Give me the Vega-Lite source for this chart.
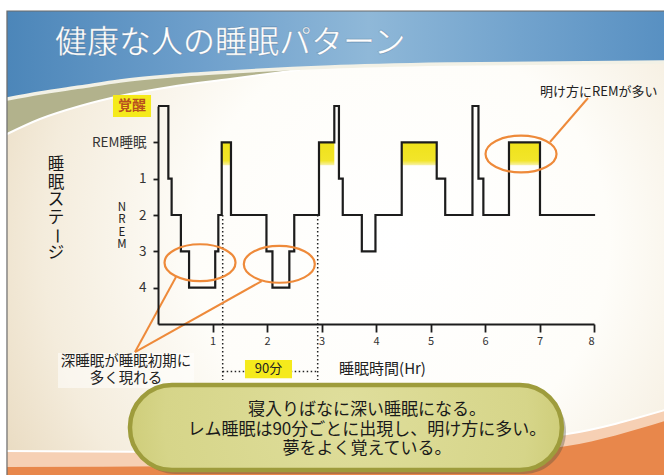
{
  "$schema": "https://vega.github.io/schema/vega-lite/v6.json",
  "width": 436,
  "height": 218,
  "autosize": {"type": "none"},
  "padding": {"left": 158, "top": 106, "right": 70, "bottom": 151},
  "background": "#ffffff",
  "config": {
    "view": {"stroke": null},
    "font": "Noto Sans CJK JP",
    "text": {"align": "center", "baseline": "middle", "fill": "#1a1a1a"}
  },
  "data": {"values": [{}]},
  "datasets": {
    "hypnogram": [
      {"hour": 0.0, "stage": 0},
      {"hour": 0.19, "stage": 2},
      {"hour": 0.25, "stage": 3},
      {"hour": 0.42, "stage": 4},
      {"hour": 0.57, "stage": 5},
      {"hour": 1.05, "stage": 4},
      {"hour": 1.107, "stage": 3},
      {"hour": 1.169, "stage": 1},
      {"hour": 1.339, "stage": 3},
      {"hour": 1.99, "stage": 4},
      {"hour": 2.10, "stage": 5},
      {"hour": 2.41, "stage": 4},
      {"hour": 2.50, "stage": 3},
      {"hour": 2.954, "stage": 1},
      {"hour": 3.235, "stage": 0},
      {"hour": 3.32, "stage": 2},
      {"hour": 3.39, "stage": 3},
      {"hour": 3.74, "stage": 4},
      {"hour": 3.99, "stage": 3},
      {"hour": 4.472, "stage": 1},
      {"hour": 5.114, "stage": 2},
      {"hour": 5.27, "stage": 3},
      {"hour": 5.77, "stage": 0},
      {"hour": 5.88, "stage": 2},
      {"hour": 5.97, "stage": 3},
      {"hour": 6.44, "stage": 1},
      {"hour": 7.009, "stage": 3},
      {"hour": 8.02, "stage": 3}
    ],
    "rem_periods": [
      {"start": 1.169, "end": 1.339},
      {"start": 2.954, "end": 3.235},
      {"start": 4.472, "end": 5.114},
      {"start": 6.44, "end": 7.009}
    ],
    "rem_onsets": [
      {"hour": 1.187},
      {"hour": 2.93}
    ],
    "highlights": [
      {"hour": 0.771, "stage": 4.313},
      {"hour": 2.226, "stage": 4.357},
      {"hour": 6.661, "stage": 1.321}
    ],
    "leaders": [
      {"hour": -0.422, "stage": 6.771, "hour2": 0.33, "stage2": 4.707},
      {"hour": -0.422, "stage": 6.771, "hour2": 1.903, "stage2": 4.818},
      {"hour": 7.193, "stage": 0.991, "hour2": 7.89, "stage2": -0.22}
    ],
    "header_edge": [
      {"pos": -2.771, "edge": -0.193},
      {"pos": -2.165, "edge": -0.358},
      {"pos": -1.431, "edge": -0.523},
      {"pos": -0.697, "edge": -0.688},
      {"pos": 0.22, "edge": -0.826},
      {"pos": 1.321, "edge": -0.936},
      {"pos": 3.156, "edge": -1.073},
      {"pos": 5.358, "edge": -1.156},
      {"pos": 9.3, "edge": -1.211}
    ],
    "olive_band": [
      {"pos": -2.771, "upper": -0.193, "lower": 0.771},
      {"pos": -2.165, "upper": -0.358, "lower": 0.358},
      {"pos": -1.431, "upper": -0.523, "lower": 0.0},
      {"pos": -0.697, "upper": -0.688, "lower": -0.275},
      {"pos": 0.22, "upper": -0.826, "lower": -0.523},
      {"pos": 1.321, "upper": -0.936, "lower": -0.743},
      {"pos": 2.606, "upper": -1.032, "lower": -1.0}
    ],
    "footer_band": [
      {"pos": -2.771, "peach": 9.496, "orange": 9.937},
      {"pos": 0.771, "peach": 9.524, "orange": 9.909},
      {"pos": 4.44, "peach": 9.386, "orange": 9.717},
      {"pos": 7.505, "peach": 9.028, "orange": 9.359},
      {"pos": 9.3, "peach": 8.368, "orange": 8.67}
    ]
  },
  "layer": [
    {
      "mark": {
        "type": "rect",
        "fill": {
          "gradient": "radial",
          "x1": 0.6, "y1": 0.5, "r1": 0,
          "x2": 0.6, "y2": 0.5, "r2": 0.7,
          "stops": [
            {"offset": 0, "color": "#ffffff"},
            {"offset": 0.45, "color": "#fefdf9"},
            {"offset": 0.78, "color": "#f4ecdc"},
            {"offset": 1, "color": "#e8d9be"}
          ]
        }
      },
      "encoding": {
        "x": {"datum": -2.771, "type": "quantitative", "scale": {"domain": [0, 8], "nice": false, "zero": false}},
        "x2": {"datum": 9.3},
        "y": {"datum": -2.615, "type": "quantitative", "scale": {"domain": [0, 6], "reverse": true, "nice": false, "zero": false}},
        "y2": {"datum": 10.2}
      }
    },
    {
      "data": {"name": "olive_band"},
      "mark": {"type": "area", "interpolate": "monotone", "fill": "#b2b28c"},
      "encoding": {
        "x": {"field": "pos", "type": "quantitative"},
        "y": {"field": "upper", "type": "quantitative"},
        "y2": {"field": "lower"}
      }
    },
    {
      "data": {"name": "olive_band"},
      "mark": {"type": "line", "interpolate": "monotone", "stroke": "#ffffff", "strokeWidth": 2},
      "encoding": {
        "x": {"field": "pos", "type": "quantitative"},
        "y": {"field": "lower", "type": "quantitative"}
      }
    },
    {
      "data": {"name": "header_edge"},
      "mark": {
        "type": "area",
        "interpolate": "monotone",
        "fill": {
          "gradient": "linear",
          "x1": 0, "y1": 0, "x2": 1, "y2": 0,
          "stops": [
            {"offset": 0, "color": "#4c86b9"},
            {"offset": 0.3, "color": "#6fa0cc"},
            {"offset": 0.55, "color": "#8fb8d8"},
            {"offset": 0.78, "color": "#72a3cd"},
            {"offset": 1, "color": "#5890c2"}
          ]
        }
      },
      "encoding": {
        "x": {"field": "pos", "type": "quantitative"},
        "y": {"field": "edge", "type": "quantitative"},
        "y2": {"datum": -2.615}
      }
    },
    {
      "data": {"name": "header_edge"},
      "mark": {"type": "line", "interpolate": "monotone", "stroke": "#f2f1e6", "strokeWidth": 3.5},
      "encoding": {
        "x": {"field": "pos", "type": "quantitative"},
        "y": {"field": "edge", "type": "quantitative"}
      }
    },
    {
      "data": {"name": "footer_band"},
      "mark": {"type": "area", "interpolate": "monotone", "fill": "#f6d0b4"},
      "encoding": {
        "x": {"field": "pos", "type": "quantitative"},
        "y": {"field": "peach", "type": "quantitative"},
        "y2": {"datum": 10.2}
      }
    },
    {
      "data": {"name": "footer_band"},
      "mark": {"type": "line", "interpolate": "monotone", "stroke": "#ffffff", "strokeWidth": 2},
      "encoding": {
        "x": {"field": "pos", "type": "quantitative"},
        "y": {"field": "peach", "type": "quantitative"}
      }
    },
    {
      "data": {"name": "footer_band"},
      "mark": {"type": "area", "interpolate": "monotone", "fill": "#e8874b"},
      "encoding": {
        "x": {"field": "pos", "type": "quantitative"},
        "y": {"field": "orange", "type": "quantitative"},
        "y2": {"datum": 10.2}
      }
    },
    {
      "mark": {"type": "rect", "fillOpacity": 0, "stroke": "#6b6b6b", "strokeWidth": 1.2},
      "encoding": {
        "x": {"datum": -2.771, "type": "quantitative"},
        "x2": {"datum": 9.4},
        "y": {"datum": -2.615, "type": "quantitative"},
        "y2": {"datum": 10.3}
      }
    },
    {
      "mark": {"type": "text", "text": "健康な人の睡眠パターン", "align": "left", "baseline": "alphabetic", "fontSize": 32, "fill": "#ffffff", "stroke": "#2c5479", "strokeWidth": 0.8, "strokeOpacity": 0.35},
      "encoding": {
        "x": {"datum": -1.89, "type": "quantitative"},
        "y": {"datum": -1.459, "type": "quantitative"}
      }
    },
    {
      "mark": {"type": "text", "text": "睡", "fontSize": 16.5},
      "encoding": {"x": {"datum": -1.872, "type": "quantitative"}, "y": {"datum": 1.624, "type": "quantitative"}}
    },
    {
      "mark": {"type": "text", "text": "眠", "fontSize": 16.5},
      "encoding": {"x": {"datum": -1.872, "type": "quantitative"}, "y": {"datum": 2.106, "type": "quantitative"}}
    },
    {
      "mark": {"type": "text", "text": "ス", "fontSize": 16.5},
      "encoding": {"x": {"datum": -1.872, "type": "quantitative"}, "y": {"datum": 2.587, "type": "quantitative"}}
    },
    {
      "mark": {"type": "text", "text": "テ", "fontSize": 16.5},
      "encoding": {"x": {"datum": -1.872, "type": "quantitative"}, "y": {"datum": 3.069, "type": "quantitative"}}
    },
    {
      "mark": {"type": "text", "text": "ー", "angle": 90, "fontSize": 16.5},
      "encoding": {"x": {"datum": -1.872, "type": "quantitative"}, "y": {"datum": 3.58, "type": "quantitative"}}
    },
    {
      "mark": {"type": "text", "text": "ジ", "fontSize": 16.5},
      "encoding": {"x": {"datum": -1.872, "type": "quantitative"}, "y": {"datum": 4.05, "type": "quantitative"}}
    },
    {
      "mark": {"type": "text", "text": "N", "fontSize": 11.5, "fill": "#222222"},
      "encoding": {"x": {"datum": -0.661, "type": "quantitative"}, "y": {"datum": 2.808, "type": "quantitative"}}
    },
    {
      "mark": {"type": "text", "text": "R", "fontSize": 11.5, "fill": "#222222"},
      "encoding": {"x": {"datum": -0.661, "type": "quantitative"}, "y": {"datum": 3.146, "type": "quantitative"}}
    },
    {
      "mark": {"type": "text", "text": "E", "fontSize": 11.5, "fill": "#222222"},
      "encoding": {"x": {"datum": -0.661, "type": "quantitative"}, "y": {"datum": 3.485, "type": "quantitative"}}
    },
    {
      "mark": {"type": "text", "text": "M", "fontSize": 11.5, "fill": "#222222"},
      "encoding": {"x": {"datum": -0.661, "type": "quantitative"}, "y": {"datum": 3.826, "type": "quantitative"}}
    },
    {
      "mark": {"type": "rect", "fill": "#f5ea1c"},
      "encoding": {
        "x": {"datum": -0.826, "type": "quantitative"},
        "x2": {"datum": -0.128},
        "y": {"datum": -0.303, "type": "quantitative"},
        "y2": {"datum": 0.303}
      }
    },
    {
      "mark": {"type": "text", "text": "覚醒", "fontSize": 14, "fontWeight": "bold", "fill": "#b8501e"},
      "encoding": {
        "x": {"datum": -0.477, "type": "quantitative"},
        "y": {"datum": 0, "type": "quantitative"}
      }
    },
    {
      "data": {"name": "rem_periods"},
      "mark": {
        "type": "rect",
        "fill": {
          "gradient": "linear",
          "x1": 0, "y1": 0, "x2": 0, "y2": 1,
          "stops": [
            {"offset": 0, "color": "#efe21a"},
            {"offset": 0.8, "color": "#f2e52a"},
            {"offset": 1, "color": "#f7f1a8"}
          ]
        }
      },
      "encoding": {
        "x": {"field": "start", "type": "quantitative"},
        "x2": {"field": "end"},
        "y": {"datum": 1, "type": "quantitative"},
        "y2": {"datum": 1.63}
      }
    },
    {
      "data": {"name": "rem_onsets"},
      "mark": {"type": "rule", "stroke": "#222222", "strokeWidth": 1.5, "strokeDash": [1.5, 2.5]},
      "encoding": {
        "x": {"field": "hour", "type": "quantitative"},
        "y": {"datum": 3, "type": "quantitative"},
        "y2": {"datum": 7.54}
      }
    },
    {
      "mark": {"type": "rule", "stroke": "#222222", "strokeWidth": 1.5, "strokeDash": [1.5, 2.5]},
      "encoding": {
        "x": {"datum": 1.187, "type": "quantitative"},
        "x2": {"datum": 2.93},
        "y": {"datum": 7.31, "type": "quantitative"}
      }
    },
    {
      "mark": {"type": "rect", "fill": "#f5ea1c"},
      "encoding": {
        "x": {"datum": 1.596, "type": "quantitative"},
        "x2": {"datum": 2.459},
        "y": {"datum": 6.99, "type": "quantitative"},
        "y2": {"datum": 7.49}
      }
    },
    {
      "mark": {"type": "text", "text": "90分", "fontSize": 13, "fill": "#222222"},
      "encoding": {
        "x": {"datum": 2.028, "type": "quantitative"},
        "y": {"datum": 7.24, "type": "quantitative"}
      }
    },
    {
      "data": {"name": "hypnogram"},
      "mark": {"type": "line", "interpolate": "step-after", "stroke": "#1c1c1c", "strokeWidth": 2.2, "strokeJoin": "miter"},
      "encoding": {
        "x": {
          "field": "hour",
          "type": "quantitative",
          "scale": {"domain": [0, 8], "nice": false, "zero": false},
          "axis": {
            "values": [1, 2, 3, 4, 5, 6, 7, 8],
            "format": "d",
            "grid": false,
            "zindex": 1,
            "domainColor": "#1c1c1c",
            "domainWidth": 2,
            "tickColor": "#1c1c1c",
            "tickWidth": 1.8,
            "tickSize": 8,
            "labelFontSize": 11,
            "labelColor": "#333333",
            "labelPadding": 3,
            "title": "睡眠時間(Hr)",
            "titleFontSize": 15,
            "titleFontWeight": "normal",
            "titleColor": "#222222",
            "titleX": 224,
            "titleY": 44,
            "titleAlign": "center",
            "titleBaseline": "middle"
          }
        },
        "y": {
          "field": "stage",
          "type": "quantitative",
          "scale": {"domain": [0, 6], "reverse": true, "nice": false, "zero": false},
          "axis": {
            "values": [1, 2, 3, 4, 5],
            "labelExpr": "datum.value == 1 ? 'REM睡眠' : '' + (datum.value - 1)",
            "title": null,
            "grid": false,
            "zindex": 1,
            "domainColor": "#1c1c1c",
            "domainWidth": 2,
            "tickColor": "#1c1c1c",
            "tickWidth": 1.8,
            "tickSize": 5,
            "labelFontSize": 13.5,
            "labelColor": "#333333",
            "labelPadding": 7
          }
        }
      }
    },
    {
      "data": {"name": "leaders"},
      "mark": {"type": "rule", "stroke": "#ee8a3a", "strokeWidth": 2},
      "encoding": {
        "x": {"field": "hour", "type": "quantitative"},
        "y": {"field": "stage", "type": "quantitative"},
        "x2": {"field": "hour2"},
        "y2": {"field": "stage2"}
      }
    },
    {
      "data": {"name": "highlights"},
      "mark": {
        "type": "point",
        "shape": "M-1,0C-1,-0.287,-0.552,-0.52,0,-0.52C0.552,-0.52,1,-0.287,1,0C1,0.287,0.552,0.52,0,0.52C-0.552,0.52,-1,0.287,-1,0Z",
        "filled": false,
        "stroke": "#ee8a3a",
        "strokeWidth": 2.2,
        "opacity": 1,
        "size": 5041
      },
      "encoding": {
        "x": {"field": "hour", "type": "quantitative"},
        "y": {"field": "stage", "type": "quantitative"}
      }
    },
    {
      "mark": {"type": "rect", "fill": "#ffffff", "opacity": 0.5},
      "encoding": {
        "x": {"datum": -1.835, "type": "quantitative"},
        "x2": {"datum": 0.661},
        "y": {"datum": 6.799, "type": "quantitative"},
        "y2": {"datum": 7.762}
      }
    },
    {
      "mark": {"type": "text", "text": "深睡眠が睡眠初期に", "fontSize": 14.5, "fill": "#222222"},
      "encoding": {
        "x": {"datum": -0.587, "type": "quantitative"},
        "y": {"datum": 7.046, "type": "quantitative"}
      }
    },
    {
      "mark": {"type": "text", "text": "多く現れる", "fontSize": 14.5, "fill": "#222222"},
      "encoding": {
        "x": {"datum": -0.587, "type": "quantitative"},
        "y": {"datum": 7.514, "type": "quantitative"}
      }
    },
    {
      "mark": {"type": "text", "text": "明け方にREMが多い", "align": "left", "fontSize": 13, "fill": "#222222"},
      "encoding": {
        "x": {"datum": 7.009, "type": "quantitative"},
        "y": {"datum": -0.385, "type": "quantitative"}
      }
    },
    {
      "mark": {"type": "rect", "fill": "#4a4a3a", "opacity": 0.35, "cornerRadius": 43},
      "encoding": {
        "x": {"datum": -0.459, "type": "quantitative"},
        "x2": {"datum": 7.486},
        "y": {"datum": 7.79, "type": "quantitative"},
        "y2": {"datum": 10.13}
      }
    },
    {
      "mark": {
        "type": "rect",
        "cornerRadius": 42,
        "stroke": "#9e9c3c",
        "strokeWidth": 4.5,
        "fill": {
          "gradient": "radial",
          "x1": 0.5, "y1": 0.45, "r1": 0,
          "x2": 0.5, "y2": 0.5, "r2": 0.6,
          "stops": [
            {"offset": 0, "color": "#dfde9c"},
            {"offset": 0.7, "color": "#d6d589"},
            {"offset": 1, "color": "#c6c468"}
          ]
        }
      },
      "encoding": {
        "x": {"datum": -0.514, "type": "quantitative"},
        "x2": {"datum": 7.41},
        "y": {"datum": 7.68, "type": "quantitative"},
        "y2": {"datum": 10.02}
      }
    },
    {
      "mark": {"type": "text", "text": "寝入りばなに深い睡眠になる。", "fontSize": 17},
      "encoding": {"x": {"datum": 3.835, "type": "quantitative"}, "y": {"datum": 8.368, "type": "quantitative"}}
    },
    {
      "mark": {"type": "text", "text": "レム睡眠は90分ごとに出現し、明け方に多い。", "fontSize": 17},
      "encoding": {"x": {"datum": 3.835, "type": "quantitative"}, "y": {"datum": 8.918, "type": "quantitative"}}
    },
    {
      "mark": {"type": "text", "text": "夢をよく覚えている。", "fontSize": 17},
      "encoding": {"x": {"datum": 3.835, "type": "quantitative"}, "y": {"datum": 9.441, "type": "quantitative"}}
    }
  ]
}
